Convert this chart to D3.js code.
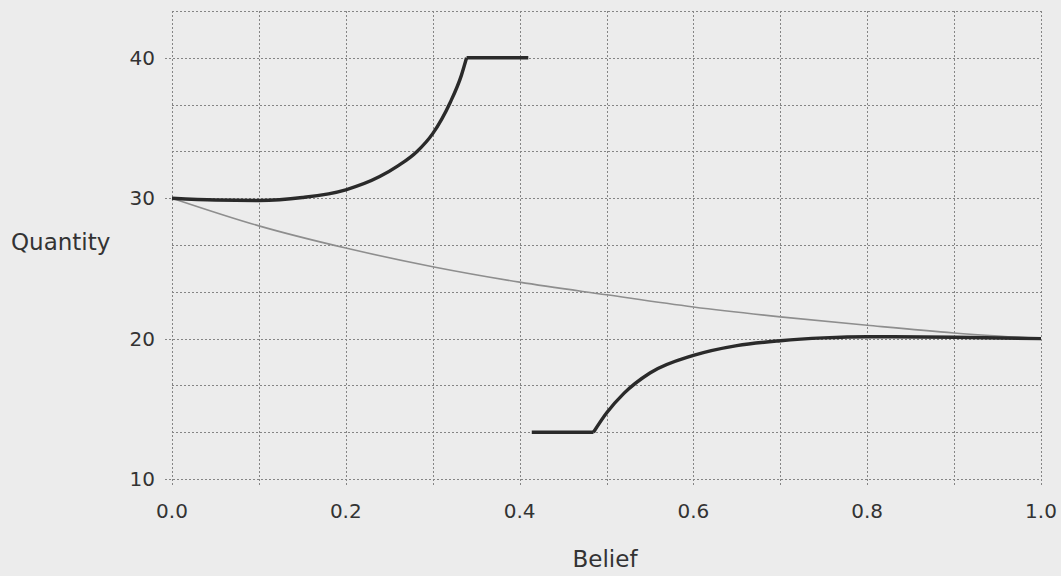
<!DOCTYPE html>
<html>
<head>
<meta charset="utf-8">
<script src="https://cdn.jsdelivr.net/npm/d3@7"></script>
<style>
  html, body { margin: 0; padding: 0; background: #ececec; }
  svg { display: block; }
  text { font-family: "DejaVu Sans", sans-serif; fill: #333; }
</style>
</head>
<body>
<svg id="chart" width="1061" height="576"></svg>
<script>
// Upper branch: rises from 30 and is capped at 40
const upperBelief = [0, 0.05, 0.1, 0.15, 0.2, 0.239, 0.26, 0.282, 0.3, 0.32, 0.333, 0.339];
const upperQty    = [30, 29.87, 29.84, 30.05, 30.6, 31.54, 32.3, 33.33, 34.6, 36.8, 38.75, 40];
const upperCapBelief = [0.339, 0.41];
const upperCapQty    = [40, 40];

// Lower branch: floor at 13.33, then approaches 20
const lowerFloorBelief = [0.414, 0.485];
const lowerFloorQty    = [13.33, 13.33];
const lowerBelief = [0.485, 0.5, 0.52, 0.55, 0.6, 0.65, 0.7, 0.75, 0.8, 0.9, 1.0];
const lowerQty    = [13.33, 14.7, 16.1, 17.55, 18.8, 19.5, 19.85, 20.05, 20.13, 20.1, 20.0];

// Pooling line from 30 to 20
const poolBelief = [0, 0.1, 0.2, 0.3, 0.4, 0.5, 0.6, 0.7, 0.8, 0.9, 1.0];
const poolQty    = [30, 28.03, 26.45, 25.12, 24.02, 23.12, 22.25, 21.55, 20.95, 20.4, 20.0];

// Axis ticks and grid
const xGrid = d3.range(0, 11).map(i => i / 10);
const xTickLabels = [0, 0.2, 0.4, 0.6, 0.8, 1.0];
const yGrid = d3.range(0, 11).map(i => 10 + i * 10 / 3);
const yTickLabels = [10, 20, 30, 40];

const svg = d3.select("#chart");
const x = d3.scaleLinear().domain([0, 1]).range([172, 1041]);
const y = d3.scaleLinear().domain([10, 43.3333]).range([479, 11]);

const grid = svg.append("g")
  .attr("stroke", "#858585")
  .attr("stroke-width", 1)
  .attr("stroke-dasharray", "2,2");

// vertical grid lines with a short tick below the frame
grid.selectAll("line.v").data(xGrid).join("line")
  .attr("class", "v")
  .attr("x1", d => Math.round(x(d)) + 0.5).attr("x2", d => Math.round(x(d)) + 0.5)
  .attr("y1", y(43.3333)).attr("y2", y(10) + 6);

// horizontal grid lines; labelled ones poke out to the left
grid.selectAll("line.h").data(yGrid).join("line")
  .attr("class", "h")
  .attr("x1", d => yTickLabels.some(t => Math.abs(t - d) < 1e-6) ? x(0) - 7 : x(0))
  .attr("x2", x(1))
  .attr("y1", d => Math.round(y(d)) + 0.5).attr("y2", d => Math.round(y(d)) + 0.5);

// tick labels
svg.append("g").selectAll("text").data(xTickLabels).join("text")
  .attr("x", d => x(d)).attr("y", 518)
  .attr("text-anchor", "middle")
  .attr("font-size", 20)
  .text(d => d3.format(".1f")(d));

svg.append("g").selectAll("text").data(yTickLabels).join("text")
  .attr("x", 155).attr("y", d => y(d) + 7)
  .attr("text-anchor", "end")
  .attr("font-size", 20)
  .text(d => d);

// axis titles
svg.append("text").attr("x", 605).attr("y", 567)
  .attr("text-anchor", "middle").attr("font-size", 23).text("Belief");
svg.append("text").attr("x", 11).attr("y", 250)
  .attr("text-anchor", "start").attr("font-size", 23).text("Quantity");

const toPts = (xs, ys) => xs.map((b, i) => [b, ys[i]]);
const smooth = d3.line().x(d => x(d[0])).y(d => y(d[1])).curve(d3.curveMonotoneX);
const straight = d3.line().x(d => x(d[0])).y(d => y(d[1]));

// pooling line (thin, grey)
svg.append("path")
  .attr("d", smooth(toPts(poolBelief, poolQty)))
  .attr("fill", "none").attr("stroke", "#8e8e8e").attr("stroke-width", 1.6);

const thick = { stroke: "#2a2a2a", width: 3.4 };
[
  smooth(toPts(upperBelief, upperQty)),
  straight(toPts(upperCapBelief, upperCapQty)),
  straight(toPts(lowerFloorBelief, lowerFloorQty)),
  smooth(toPts(lowerBelief, lowerQty))
].forEach(d => {
  svg.append("path").attr("d", d)
    .attr("fill", "none")
    .attr("stroke", thick.stroke)
    .attr("stroke-width", thick.width)
    .attr("stroke-linejoin", "round");
});
</script>
</body>
</html>
